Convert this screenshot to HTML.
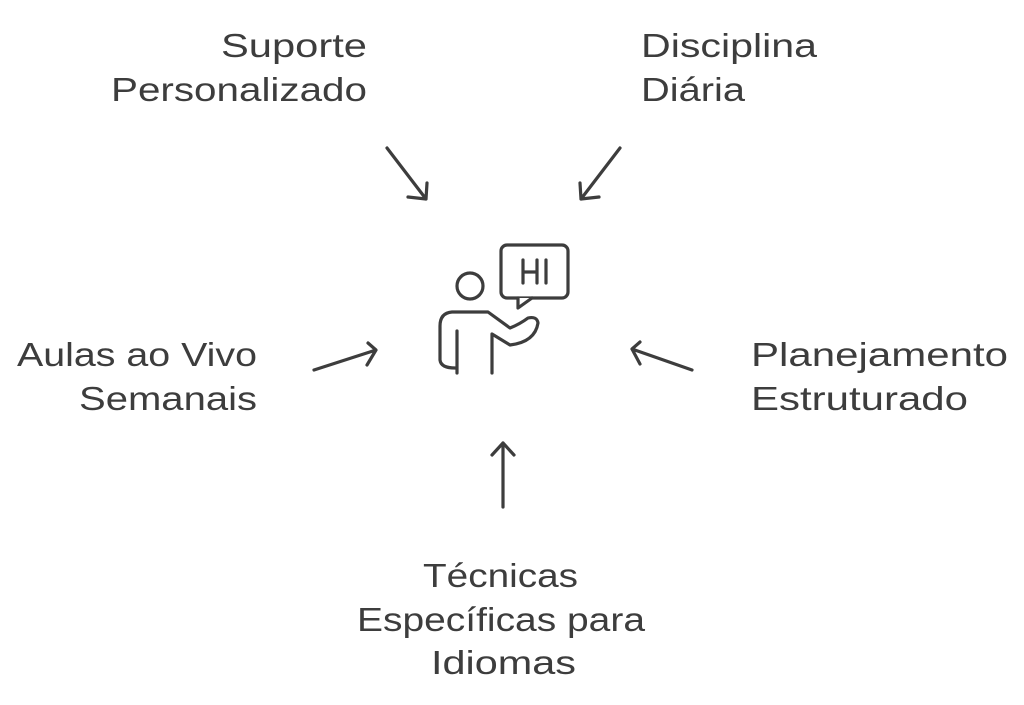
<!DOCTYPE html>
<html><head><meta charset="utf-8"><style>html,body{margin:0;padding:0;background:#fff}svg{display:block}</style></head>
<body>
<svg width="1024" height="705" viewBox="0 0 1024 705" xmlns="http://www.w3.org/2000/svg">
<g font-family="Liberation Sans, sans-serif" font-size="33" fill="#3d3d3d" lengthAdjust="spacingAndGlyphs">
<text x="367" y="57" text-anchor="end" textLength="146" lengthAdjust="spacingAndGlyphs">Suporte</text>
<text x="367" y="101" text-anchor="end" textLength="256" lengthAdjust="spacingAndGlyphs">Personalizado</text>
<text x="641" y="57" textLength="176" lengthAdjust="spacingAndGlyphs">Disciplina</text>
<text x="641" y="101" textLength="104" lengthAdjust="spacingAndGlyphs">Diária</text>
<text x="257" y="366" text-anchor="end" textLength="240" lengthAdjust="spacingAndGlyphs">Aulas ao Vivo</text>
<text x="257" y="410" text-anchor="end" textLength="178" lengthAdjust="spacingAndGlyphs">Semanais</text>
<text x="751" y="366" textLength="257" lengthAdjust="spacingAndGlyphs">Planejamento</text>
<text x="751" y="410" textLength="217" lengthAdjust="spacingAndGlyphs">Estruturado</text>
<text x="423" y="587" textLength="155" lengthAdjust="spacingAndGlyphs">Técnicas</text>
<text x="357" y="631" textLength="288" lengthAdjust="spacingAndGlyphs">Específicas para</text>
<text x="431" y="674" textLength="145" lengthAdjust="spacingAndGlyphs">Idiomas</text>
</g>
<g fill="none" stroke="#3d3d3d" stroke-width="3.2" stroke-linecap="round" stroke-linejoin="round">
<path d="M387 148 L426 199 M427 183 L426 199 L408 197"/>
<path d="M620 148 L581 199 M580 183 L581 199 L599 197"/>
<path d="M314 370 L376 350 M368 343 L376 350 L367 365"/>
<path d="M692 370 L632 349 M640 342 L632 349 L640 364"/>
<path d="M503 507 L503 443 M492 455 L503 443 L514 455"/>
<!-- icon -->
<rect x="501" y="245" width="67" height="53" rx="6"/>
<path d="M518 298 L518 308 L532 298" fill="#fff"/>
<path d="M523 260 V283 M537 260 V283 M523 272 H537 M546 260 V283"/>
<circle cx="470" cy="286" r="13"/>
<path d="M457 373 V331 M492 373 V334 L510 345 Q535 342 538 323 Q537 316 528 318 Q520 324 510 328 L488 312 H452 Q440 313 440 326 V360 Q441 368 455 368"/>
</g>
</svg>
</body></html>
